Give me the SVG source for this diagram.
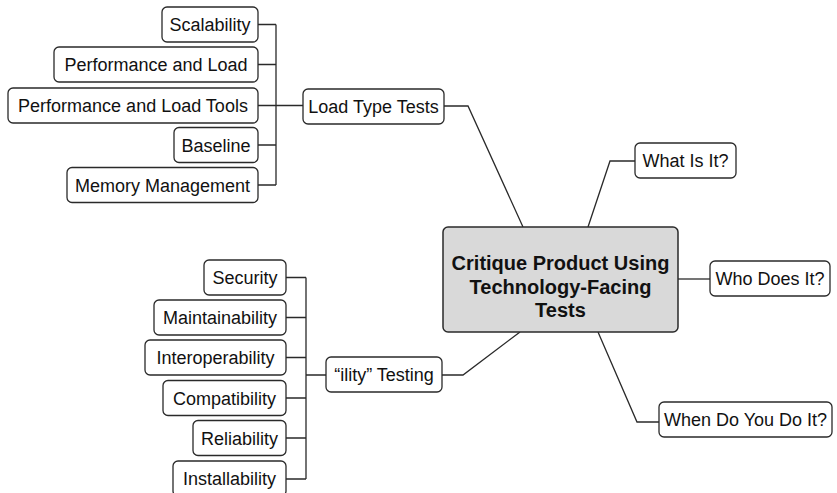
<svg xmlns="http://www.w3.org/2000/svg" width="837" height="493" viewBox="0 0 837 493">
<style>
.box{fill:#ffffff;stroke:#2a2a2a;stroke-width:1.3}
.root{fill:#d9d9d9;stroke:#2a2a2a;stroke-width:1.5}
.lbl{font-family:"Liberation Sans",Arial,sans-serif;font-size:18px;fill:#111;text-anchor:middle}
.rlbl{font-family:"Liberation Sans",Arial,sans-serif;font-size:20px;font-weight:bold;fill:#111;text-anchor:middle}
.con{fill:none;stroke:#2a2a2a;stroke-width:1.3}
</style>
<rect width="837" height="493" fill="#ffffff"/>
<g id="connectors">
<path class="con" d="M258 24.5H276M258 64.5H276M258 105.5H303M258 145H276M258 185H276M276 24.5V185"/>
<path class="con" d="M444 106H468L523 227"/>
<path class="con" d="M286 277.5H306M286 317.5H306M286 357.5H306M286 398H306M286 438H306M286 479H306M306 277.5V479M306 375H326"/>
<path class="con" d="M442 375H463L520 332"/>
<path class="con" d="M588 227L610 161H635"/>
<path class="con" d="M678 279H710"/>
<path class="con" d="M598 332L637 422H659"/>
</g>
<g id="root">
<rect class="root" x="443" y="227" width="235" height="105" rx="5"/>
<text class="rlbl" x="560.5" y="270">Critique Product Using</text>
<text class="rlbl" x="560.5" y="293.5">Technology-Facing</text>
<text class="rlbl" x="560.5" y="317">Tests</text>
</g>
<g id="load-type-tests">
<rect class="box" x="303" y="89" width="141" height="35" rx="5"/>
<text class="lbl" x="373.5" y="112.5">Load Type Tests</text>
</g>
<g id="scalability">
<rect class="box" x="162" y="7" width="96" height="35" rx="5"/>
<text class="lbl" x="210" y="31">Scalability</text>
</g>
<g id="performance-and-load">
<rect class="box" x="54" y="47" width="204" height="35" rx="5"/>
<text class="lbl" x="156" y="71">Performance and Load</text>
</g>
<g id="performance-and-load-tools">
<rect class="box" x="8" y="88" width="250" height="35" rx="5"/>
<text class="lbl" x="133" y="112">Performance and Load Tools</text>
</g>
<g id="baseline">
<rect class="box" x="174" y="127.5" width="84" height="35" rx="5"/>
<text class="lbl" x="216" y="151.5">Baseline</text>
</g>
<g id="memory-management">
<rect class="box" x="67" y="167.5" width="191" height="35" rx="5"/>
<text class="lbl" x="162.5" y="191.5">Memory Management</text>
</g>
<g id="ility-testing">
<rect class="box" x="326" y="357" width="116" height="35" rx="5"/>
<text class="lbl" x="384" y="381">“ility” Testing</text>
</g>
<g id="security">
<rect class="box" x="204" y="260" width="82" height="35" rx="5"/>
<text class="lbl" x="245" y="284">Security</text>
</g>
<g id="maintainability">
<rect class="box" x="154" y="300" width="132" height="35" rx="5"/>
<text class="lbl" x="220" y="324">Maintainability</text>
</g>
<g id="interoperability">
<rect class="box" x="145" y="340" width="141" height="35" rx="5"/>
<text class="lbl" x="215.5" y="364">Interoperability</text>
</g>
<g id="compatibility">
<rect class="box" x="163" y="380.5" width="123" height="35" rx="5"/>
<text class="lbl" x="224.5" y="404.5">Compatibility</text>
</g>
<g id="reliability">
<rect class="box" x="193" y="420.5" width="93" height="35" rx="5"/>
<text class="lbl" x="239.5" y="444.5">Reliability</text>
</g>
<g id="installability">
<rect class="box" x="173" y="461" width="113" height="35" rx="5"/>
<text class="lbl" x="229.5" y="485">Installability</text>
</g>
<g id="what-is-it">
<rect class="box" x="635" y="143" width="101" height="35" rx="5"/>
<text class="lbl" x="685.5" y="167">What Is It?</text>
</g>
<g id="who-does-it">
<rect class="box" x="710" y="261" width="120" height="35" rx="5"/>
<text class="lbl" x="770" y="285">Who Does It?</text>
</g>
<g id="when-do-you-do-it">
<rect class="box" x="659" y="402" width="173" height="35" rx="5"/>
<text class="lbl" x="745.5" y="426">When Do You Do It?</text>
</g>
</svg>
